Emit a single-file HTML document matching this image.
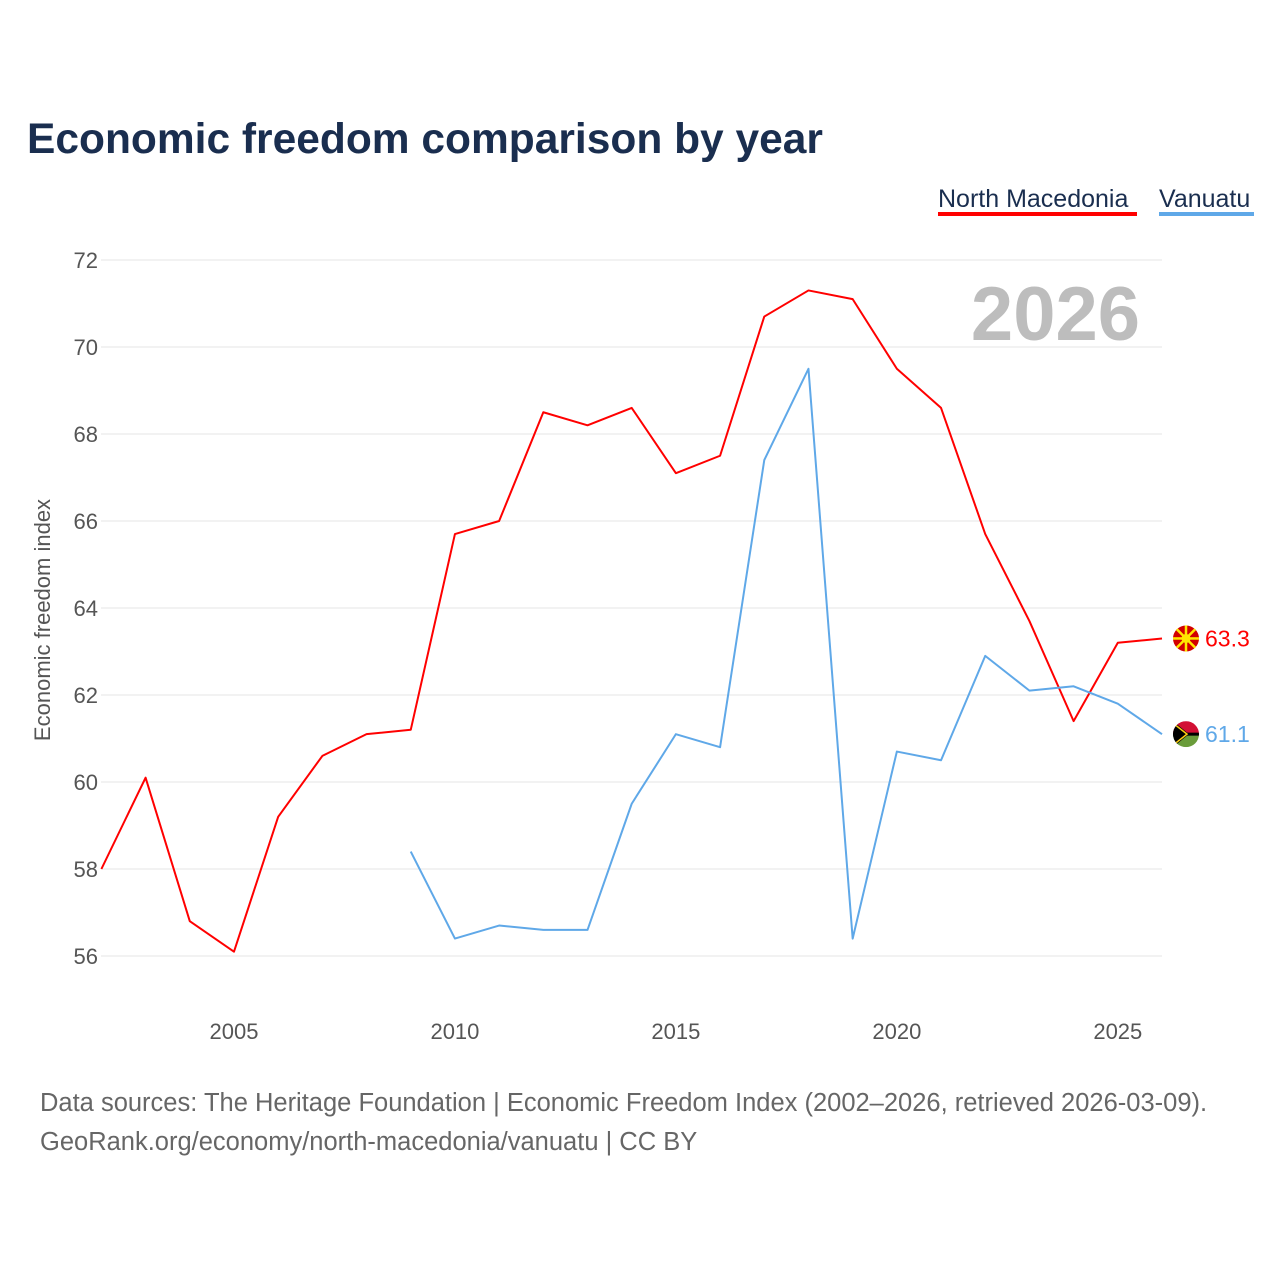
<!DOCTYPE html>
<html><head><meta charset="utf-8"><style>
body{margin:0;background:#fff;font-family:"Liberation Sans",sans-serif;}
#wrap{position:relative;width:1280px;height:1280px;}
</style></head><body>
<div id="wrap">
<svg id="chart" width="1280" height="1280" xmlns="http://www.w3.org/2000/svg">
<defs><clipPath id="vuclip"><circle id="vuc" cx="0" cy="0" r="13"/></clipPath></defs>
<text x="27" y="153" font-size="42.5" font-weight="bold" fill="#1a2e4f">Economic freedom comparison by year</text>
<g><text x="938" y="207" font-size="25" fill="#1a2e4f">North Macedonia</text><rect x="938" y="212" width="199" height="4" fill="#ff0000"/></g>
<g><text x="1159" y="207" font-size="25" fill="#1a2e4f">Vanuatu</text><rect x="1159" y="212" width="95" height="4" fill="#5fa8e8"/></g>
<text x="1140" y="340" text-anchor="end" font-size="76" font-weight="bold" fill="#bdbdbd">2026</text>
<text transform="translate(50,620) rotate(-90)" text-anchor="middle" font-size="22" fill="#555">Economic freedom index</text>
<g id="grid"></g><g id="yt"></g><g id="xt"></g><g id="lines"></g>
<text x="40" y="1111" font-size="25.5" fill="#666">Data sources: The Heritage Foundation | Economic Freedom Index (2002–2026, retrieved 2026-03-09).</text>
<text x="40" y="1150" font-size="25.5" fill="#666">GeoRank.org/economy/north-macedonia/vanuatu | CC BY</text>
</svg></div>
<script>
const yearsMK=[2002,2003,2004,2005,2006,2007,2008,2009,2010,2011,2012,2013,2014,2015,2016,2017,2018,2019,2020,2021,2022,2023,2024,2025,2026];
const valuesMK=[58.0,60.1,56.8,56.1,59.2,60.6,61.1,61.2,65.7,66.0,68.5,68.2,68.6,67.1,67.5,70.7,71.3,71.1,69.5,68.6,65.7,63.7,61.4,63.2,63.3];
const yearsVU=[2009,2010,2011,2012,2013,2014,2015,2016,2017,2018,2019,2020,2021,2022,2023,2024,2025,2026];
const valuesVU=[58.4,56.4,56.7,56.6,56.6,59.5,61.1,60.8,67.4,69.5,56.4,60.7,60.5,62.9,62.1,62.2,61.8,61.1];
const yTicks=[56,58,60,62,64,66,68,70,72];
const xTicks=[2005,2010,2015,2020,2025];
const NS="http://www.w3.org/2000/svg";
const xs=y=>101.4+(y-2002)*(1162-101.4)/24;
const ys=v=>956-(v-56)*(956-260)/16;
function mk(t,a,p){const e=document.createElementNS(NS,t);for(const k in a)e.setAttribute(k,a[k]);p.appendChild(e);return e;}
const grid=document.getElementById('grid'),yt=document.getElementById('yt'),xt=document.getElementById('xt'),lines=document.getElementById('lines');
yTicks.forEach(v=>{
const l=mk('line',{x1:101,x2:1162,y1:ys(v),y2:ys(v),stroke:'#e6e6e6','stroke-width':1},grid);


const t=mk('text',{x:98,y:ys(v)+8,'text-anchor':'end','font-size':22,fill:'#555'},yt);t.textContent=v;


});
xTicks.forEach(y=>{
const t=mk('text',{x:xs(y),y:1039,'text-anchor':'middle','font-size':22,fill:'#555'},xt);t.textContent=y;


});
function series(yrs,vals,col,name){
const p=mk('polyline',{points:yrs.map((y,i)=>xs(y)+','+ys(vals[i])).join(' '),fill:'none',stroke:col,'stroke-width':2,'stroke-linejoin':'round'},lines);


const lx=xs(yrs[yrs.length-1]),lv=vals[vals.length-1];
const cx=lx+24,cy=ys(lv);
if(name==='north-macedonia'){
const c=mk('circle',{cx:cx,cy:cy,r:13,fill:'#d20000'},lines);


for(let i=0;i<8;i++){const a=i*Math.PI/4;mk('line',{x1:cx,y1:cy,x2:cx+13*Math.cos(a),y2:cy+13*Math.sin(a),stroke:'#ffe600','stroke-width':2.5},lines);}
mk('circle',{cx:cx,cy:cy,r:4.5,fill:'#ffe600'},lines);
}else{
const g=mk('g',{transform:`translate(${cx},${cy})`,'clip-path':'url(#vuclip)'},lines);


mk('rect',{x:-13,y:-13,width:26,height:13,fill:'#d21034'},g);
mk('rect',{x:-13,y:0,width:26,height:13,fill:'#6a9c3a'},g);
mk('rect',{x:-13,y:-1.5,width:26,height:3,fill:'#000'},g);
mk('path',{d:'M-13 -13L3 0L-13 13z',fill:'#000'},g);
mk('path',{d:'M-13 -11L1 0L-13 11',fill:'none',stroke:'#fdce12','stroke-width':1.5},g);
}
const t=mk('text',{x:lx+43,y:ys(lv)+8,'font-size':23,fill:col},lines);t.textContent=lv.toFixed(1);


}
series(yearsMK,valuesMK,'#ff0000','north-macedonia');
series(yearsVU,valuesVU,'#5fa8e8','vanuatu');
</script>
</body></html>
